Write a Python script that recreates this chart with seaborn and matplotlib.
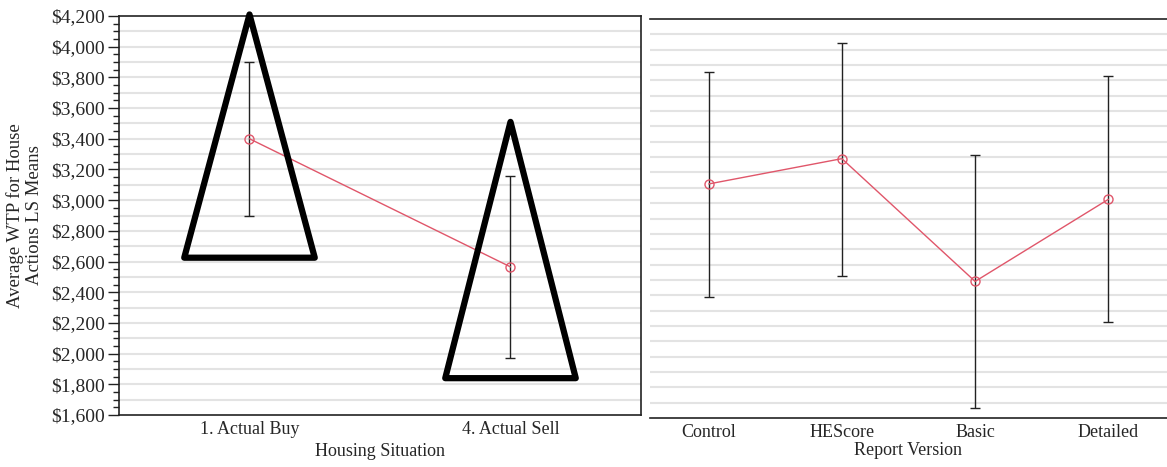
import numpy as np
import pandas as pd
import matplotlib
matplotlib.use('Agg')
import matplotlib.pyplot as plt
import seaborn as sns
from matplotlib.patches import Polygon
from matplotlib.ticker import FuncFormatter, MultipleLocator, FixedLocator

# left panel: housing situation
housing = ['1. Actual Buy', '4. Actual Sell']
housing_mean = [3400, 2565]
housing_lo = [2900, 1970]
housing_hi = [3900, 3160]

# right panel: report version
report = ['Control', 'HEScore', 'Basic', 'Detailed']
report_mean = [3125, 3290, 2490, 3025]
report_lo = [2390, 2525, 1665, 2225]
report_hi = [3855, 4045, 3315, 3830]

# hand-drawn triangles on the left panel (apex and base in data units)
tri_apex = [4210, 3510]
tri_base = [2625, 1840]

sns.set_style('white')
plt.rcParams['font.family'] = ['Liberation Serif', 'DejaVu Serif']

W, H = 1167, 467
fig = plt.figure(figsize=(W / 100, H / 100), dpi=100)
ax1 = fig.add_axes([119 / W, (H - 415) / H, (641 - 119) / W, (415 - 16) / H])
ax2 = fig.add_axes([650 / W, (H - 418) / H, (1167 - 650) / W, (418 - 19) / H])

line_red = '#e0566a'
grid_col = '#e3e3e3'


def draw_panel(ax, cats, mean, lo, hi):
    df = pd.DataFrame({'cat': cats, 'val': mean})
    mean = np.array(mean)
    yerr = [mean - np.array(lo), np.array(hi) - mean]
    ax.errorbar(range(len(cats)), mean, yerr=yerr, fmt='none', ecolor='#222222',
                elinewidth=1, capsize=3.3, capthick=1, zorder=2)
    sns.pointplot(data=df, x='cat', y='val', errorbar=None, color=line_red,
                  linewidth=1, markers='o', markersize=6.5, markerfacecolor='none',
                  markeredgewidth=1, ax=ax, zorder=3)
    ax.set_ylim(1600, 4200)
    ax.grid(False)
    for yv in np.arange(1700, 4200, 100):
        ax.axhline(yv, color=grid_col, lw=1.5, zorder=0)
    ax.set_ylabel('')
    ax.xaxis.set_minor_locator(FixedLocator(np.arange(0.5, len(cats) - 0.5, 1)))
    ax.tick_params(axis='x', which='major', length=0, pad=4, labelsize=13)
    ax.tick_params(axis='x', which='minor', length=6, width=1, color='#222222', direction='out')
    for s in ax.spines.values():
        s.set_color('#222222')
        s.set_linewidth(1.2)


draw_panel(ax1, housing, housing_mean, housing_lo, housing_hi)
draw_panel(ax2, report, report_mean, report_lo, report_hi)

# left panel y axis
ax1.set_xlim(-0.5, 1.5)
ax1.yaxis.set_major_locator(MultipleLocator(200))
ax1.yaxis.set_minor_locator(MultipleLocator(50))
ax1.yaxis.set_major_formatter(FuncFormatter(lambda v, p: '${:,.0f}'.format(v)))
ax1.tick_params(axis='y', which='major', left=True, length=8, width=1, pad=2, labelsize=14,
                color='#222222')
ax1.tick_params(axis='y', which='minor', left=True, length=4, width=1, color='#222222')
ax1.set_xlabel('Housing Situation', fontsize=13, labelpad=4)
ax1.set_ylabel('Average WTP for House\nActions LS Means', fontsize=13.5, labelpad=6,
               linespacing=1.15)

for i, (apex, base) in enumerate(zip(tri_apex, tri_base)):
    tri = Polygon([[i - 0.25, base], [i + 0.25, base], [i, apex]], closed=True,
                  fill=False, edgecolor='black', lw=4.5, joinstyle='round',
                  clip_on=False, zorder=4)
    ax1.add_patch(tri)

# right panel: no y axis, no left/right spine
ax2.set_xlim(-0.44, 3.44)
ax2.spines['left'].set_visible(False)
ax2.spines['right'].set_visible(False)
ax2.tick_params(axis='y', which='both', left=False, labelleft=False)
ax2.set_xlabel('Report Version', fontsize=13, labelpad=1)

fig.savefig('out.png', dpi=100)
